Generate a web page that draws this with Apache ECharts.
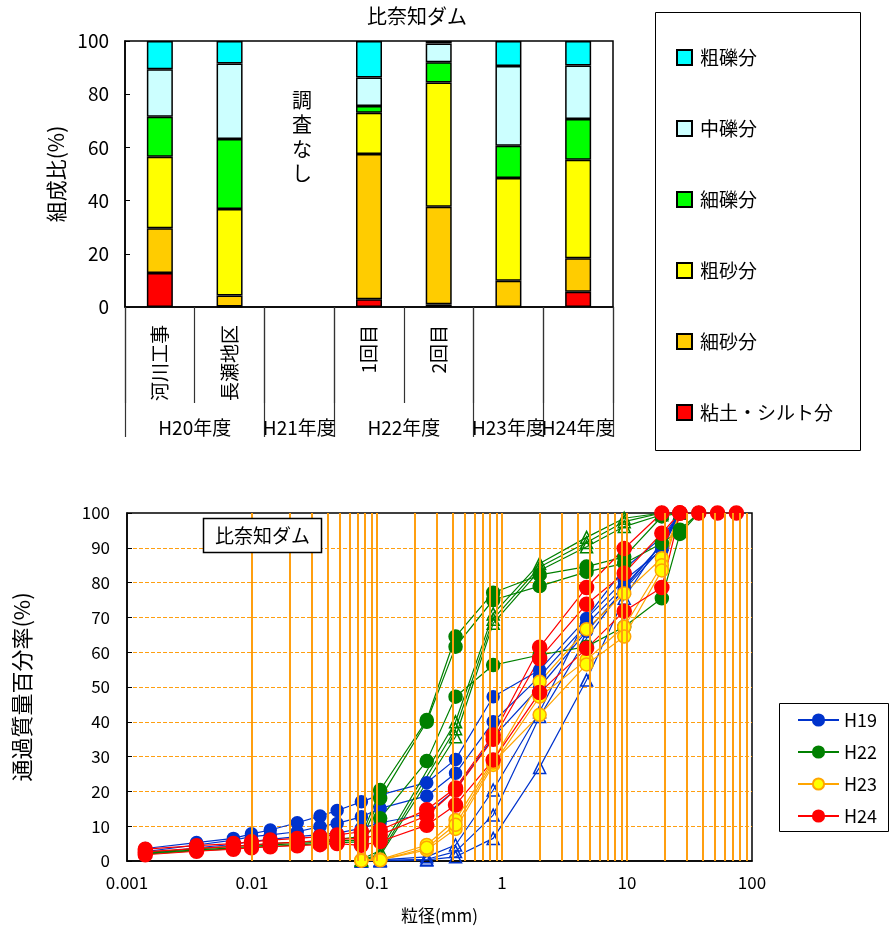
<!DOCTYPE html>
<html><head><meta charset="utf-8">
<script src="https://cdn.jsdelivr.net/npm/echarts/dist/echarts.min.js"></script>
<style>html,body{margin:0;padding:0;background:#fff}#c{width:890px;height:933px}</style>
</head><body><div id="c"></div><script>
// ---------- top chart data ----------
const categories = ['河川工事','長瀬地区','','1回目','2回目','',''];
const yearSlotsA = ['','','H20年度','','','H21年度','','','H22年度','','','','','H24年度',''];
const yearSlotsB = ['','','','','','','','','','','','H23年度','','',''];
const fractionNames = ['粘土・シルト分','細砂分','粗砂分','細礫分','中礫分','粗礫分'];
const fractionColors = ['#FF0000','#FFCC00','#FFFF00','#00FF00','#CCFFFF','#00FFFF'];
const siltClay     = [12.8, 0.2, null, 2.9, 1.0, 0.0, 5.7];
const fineSand     = [16.8, 4.1, null, 54.6, 36.7, 9.9, 12.6];
const coarseSand   = [26.9, 32.5, null, 15.5, 46.7, 38.6, 37.1];
const fineGravel   = [15.0, 26.4, null, 2.6, 7.6, 12.1, 15.3];
const mediumGravel = [17.9, 28.3, null, 10.7, 7.1, 30.0, 20.1];
const coarseGravel = [10.6, 8.5, null, 13.7, 0.9, 9.4, 9.2];
const fractionValues = [siltClay, fineSand, coarseSand, fineGravel, mediumGravel, coarseGravel];

// ---------- bottom chart data ----------
const fineSizes  = [0.0014, 0.0036, 0.0071, 0.0099, 0.014, 0.023, 0.035, 0.048];
const sieveSizes = [0.075, 0.106, 0.25, 0.425, 0.85, 2, 4.75, 9.5, 19, 26.5, 37.5, 53, 75];
const xTickLabels = ['0.001','0.01','0.1','1','10','100'];
const N = null;
// H19
const h19c1 = [3.6,5.3,6.5,7.8,8.9,11.0,12.9,14.5,  17.0,19.0,22.5,29.2,47.2,54.9,69.7,80.7,89.4,100,N,N,N];
const h19c2 = [2.7,4.6,6.0,7.0,7.5,8.4,9.9,10.8,    12.7,15.1,18.7,25.2,40.0,53.0,68.0,79.0,91.0,100,N,N,N];
const h19c3 = [2.0,3.8,4.8,5.6,6.2,7.0,7.6,8.0,     9.4,11.0,13.5,20.5,35.5,50.0,66.0,78.0,90.0,100,N,N,N];
const h19t1 = [N,N,N,N,N,N,N,N,  0,0.3,1.2,4.6,20.4,42.9,70.0,84.0,93.0,100,N,N,N];
const h19t2 = [N,N,N,N,N,N,N,N,  0,0.2,0.5,2.7,13.2,41.5,64.0,78.5,91.0,100,N,N,N];
const h19t3 = [N,N,N,N,N,N,N,N,  0,0,0.3,1.2,6.5,26.9,52.0,75.5,92.0,100,N,N,N];
// H22
const h22c1 = [2.5,3.5,4.2,4.6,5.0,5.4,5.8,6.2,  7.0,20.4,40.5,64.5,77.1,82.2,84.6,87.4,99.0,100,N,N,N];
const h22c2 = [2.2,3.2,3.8,4.2,4.6,5.0,5.4,5.8,  6.0,18.0,40.0,61.6,75.0,79.0,83.1,85.5,91.3,95.2,100,N,N];
const h22c3 = [2.0,3.0,3.5,3.9,4.2,4.6,5.0,5.3,  5.5,12.3,28.7,47.2,56.3,59.2,61.6,67.3,75.5,94.0,100,N,N];
const h22t1 = [N,N,N,N,N,N,N,N,  0.5,3.0,N,40.0,71.0,85.5,93.0,98.5,100,N,N,N,N];
const h22t2 = [N,N,N,N,N,N,N,N,  0.3,2.0,N,38.0,69.5,84.5,91.5,97.5,100,N,N,N,N];
const h22t3 = [N,N,N,N,N,N,N,N,  0.2,1.5,N,35.7,68.3,83.5,90.3,96.1,99.5,100,N,N,N];
// H23
const h23c1 = [N,N,N,N,N,N,N,N,  0.3,0.4,4.6,11.8,29.0,51.5,66.6,76.9,87.0,100,N,N,N];
const h23c2 = [N,N,N,N,N,N,N,N,  0.2,0.3,3.2,9.2,27.6,47.2,57.8,67.3,85.0,100,N,N,N];
const h23c3 = [N,N,N,N,N,N,N,N,  0.1,0.2,3.8,10.4,28.3,42.0,56.5,64.5,83.5,100,N,N,N];
// H24
const h24c1 = [3.4,4.4,5.0,5.5,6.0,6.5,7.0,7.5,  8.4,8.9,14.7,21.0,36.2,61.4,78.6,89.8,100,100,100,100,100];
const h24c2 = [2.6,3.6,4.2,4.6,5.0,5.4,5.8,6.2,  6.5,7.5,13.0,20.4,35.0,58.2,73.8,82.7,94.2,100,N,N,N];
const h24c3 = [1.8,2.8,3.4,3.8,4.1,4.4,4.7,5.0,  4.5,5.6,10.3,16.1,29.0,48.4,61.1,71.8,78.6,100,N,N,N];

const allSizes = fineSizes.concat(sieveSizes);
function toPairs(vals){ const out=[]; vals.forEach((v,i)=>{ if(v!==null) out.push([allSizes[i], v]); }); return out; }

const FONT = 'Noto Sans CJK JP';
const BLUE='#0033CC', GREEN='#008000', ORANGE='#FFA500', YELLOW='#FFFF00', RED='#FF0000';
const GRIDC = '#FF9F10';

function lineSeries(name, vals, symbol, lineColor, fill, border, size){
  return {
    type:'line', name, xAxisIndex:2, yAxisIndex:1, data: toPairs(vals),
    symbol, symbolSize:size, showAllSymbol:true,
    lineStyle:{color:lineColor, width:1.2},
    itemStyle:{color:fill, borderColor:border, borderWidth:1.5},
    emphasis:{disabled:true}, silent:true, z:3
  };
}

const series = [];
fractionNames.forEach((n,i)=>{
  series.push({type:'bar', name:n, xAxisIndex:0, yAxisIndex:0, stack:'s', barWidth:26,
    data: fractionValues[i],
    itemStyle:{color:fractionColors[i], borderColor:'#000', borderWidth:1.5},
    emphasis:{disabled:true}, silent:true});
});

// vertical log grid lines via markLine
const gridVals = [];
for (let e=-3; e<2; e++){ for (let m=1; m<=9; m++){ const v = +(m*Math.pow(10,e)).toPrecision(3); if (v>0.001) gridVals.push(v);} }
series.push({type:'line', name:'grid', xAxisIndex:2, yAxisIndex:1, data:[], z:1, silent:true,
  markLine:{silent:true, symbol:['none','none'], label:{show:false}, animation:false,
    lineStyle:{color:GRIDC, type:'solid', width:2}, emphasis:{disabled:true},
    data: gridVals.map(v=>({xAxis:v}))}});

series.push(lineSeries('H19', h19c1, 'circle', BLUE, BLUE, BLUE, 12));
series.push(lineSeries('H19', h19c2, 'circle', BLUE, BLUE, BLUE, 12));
series.push(lineSeries('H19', h19c3, 'circle', BLUE, BLUE, BLUE, 12));
series.push(lineSeries('H19', h19t1, 'triangle', BLUE, 'rgba(255,255,255,0)', BLUE, 12));
series.push(lineSeries('H19', h19t2, 'triangle', BLUE, 'rgba(255,255,255,0)', BLUE, 12));
series.push(lineSeries('H19', h19t3, 'triangle', BLUE, 'rgba(255,255,255,0)', BLUE, 12));
series.push(lineSeries('H22', h22c1, 'circle', GREEN, GREEN, GREEN, 13));
series.push(lineSeries('H22', h22c2, 'circle', GREEN, GREEN, GREEN, 13));
series.push(lineSeries('H22', h22c3, 'circle', GREEN, GREEN, GREEN, 13));
series.push(lineSeries('H22', h22t1, 'triangle', GREEN, 'rgba(255,255,255,0)', GREEN, 12));
series.push(lineSeries('H22', h22t2, 'triangle', GREEN, 'rgba(255,255,255,0)', GREEN, 12));
series.push(lineSeries('H22', h22t3, 'triangle', GREEN, 'rgba(255,255,255,0)', GREEN, 12));
series.push(lineSeries('H23', h23c1, 'circle', ORANGE, YELLOW, ORANGE, 13));
series.push(lineSeries('H23', h23c2, 'circle', ORANGE, YELLOW, ORANGE, 13));
series.push(lineSeries('H23', h23c3, 'circle', ORANGE, YELLOW, ORANGE, 13));
series.push(lineSeries('H24', h24c1, 'circle', RED, RED, RED, 14));
series.push(lineSeries('H24', h24c2, 'circle', RED, RED, RED, 14));
series.push(lineSeries('H24', h24c3, 'circle', RED, RED, RED, 14));

const longTicks = [0,4,6,10,12,14];
function groupAxis(slots, showTicks){
  return {type:'category', gridIndex:0, data:slots, boundaryGap:false, position:'bottom',
     axisLine:{show:false},
     axisTick:{show:showTicks, interval:(i)=>longTicks.includes(i), length:130, lineStyle:{color:'#333', width:1.2}},
     axisLabel:{interval:(i,v)=>v!=='', margin:111, fontSize:19, color:'#000', fontFamily:FONT, hideOverlap:false,
       showMinLabel:true, showMaxLabel:true},
     splitLine:{show:false}};
}

const option = {
  animation:false,
  textStyle:{fontFamily:FONT, color:'#000'},
  title:{text:'比奈知ダム', left:362, top:1, textStyle:{fontSize:20, fontWeight:'normal', color:'#000', fontFamily:FONT}},
  grid:[
    {left:125, top:41, width:488, height:266, show:true, borderColor:'#000', borderWidth:1.5, outerBoundsMode:'none', containLabel:false},
    {left:127, top:513, width:625, height:348, show:true, borderColor:'#000', borderWidth:1.5, outerBoundsMode:'none', containLabel:false}
  ],
  legend:[
    {data:fractionNames.slice().reverse(), orient:'vertical', left:676, top:48, padding:0, itemWidth:15, itemHeight:15, itemGap:52,
     icon:'rect', selectedMode:false, textStyle:{fontSize:19, color:'#000', fontFamily:FONT, lineHeight:19, padding:[0,0,0,3]}},
    {data:['H19','H22','H23','H24'], orient:'vertical', left:797, top:711, padding:0, itemWidth:41, itemHeight:14, itemGap:14,
     selectedMode:false, textStyle:{fontSize:18, color:'#000', fontFamily:FONT, lineHeight:18}}
  ],
  xAxis:[
    {type:'category', gridIndex:0, data:categories, position:'bottom',
     axisLine:{show:true, lineStyle:{color:'#000', width:1.5}},
     axisTick:{show:true, interval:0, length:96, lineStyle:{color:'#333', width:1.2}},
     axisLabel:{interval:0, rotate:90, margin:18, fontSize:19, color:'#000', fontFamily:FONT, hideOverlap:false},
     splitLine:{show:false}},
    groupAxis(yearSlotsA, true),
    {type:'log', gridIndex:1, logBase:10, min:0.001, max:100,
     axisLine:{show:true, lineStyle:{color:'#000', width:1.5}},
     axisTick:{show:false},
     axisLabel:{fontSize:17, margin:13, color:'#000', fontFamily:FONT,
       formatter:(v)=>{ const e=Math.round(Math.log10(v)); return xTickLabels[e+3] || String(v); }},
     splitLine:{show:false},
     name:'粒径(mm)', nameLocation:'middle', nameGap:46, nameTextStyle:{fontSize:17, color:'#000', fontFamily:FONT}},
    groupAxis(yearSlotsB, false)
  ],
  yAxis:[
    {type:'value', gridIndex:0, min:0, max:100, interval:20,
     axisLine:{show:true, lineStyle:{color:'#000', width:1.5}},
     axisTick:{show:true, inside:true, length:5, lineStyle:{color:'#000'}},
     axisLabel:{fontSize:19, margin:16, color:'#000', fontFamily:FONT},
     splitLine:{show:false},
     name:'組成比(%)', nameLocation:'middle', nameGap:57, nameRotate:90,
     nameTextStyle:{fontSize:21, color:'#000', fontFamily:FONT}},
    {type:'value', gridIndex:1, min:0, max:100, interval:10,
     axisLine:{show:true, lineStyle:{color:'#000', width:1.5}},
     axisTick:{show:true, inside:true, length:5, lineStyle:{color:'#000'}},
     axisLabel:{fontSize:17, margin:17, color:'#000', fontFamily:FONT},
     splitLine:{show:true, showMinLine:false, showMaxLine:false, lineStyle:{color:GRIDC, type:[4,2], width:1}},
     name:'通過質量百分率(%)', nameLocation:'middle', nameGap:94, nameRotate:90,
     nameTextStyle:{fontSize:22, color:'#000', fontFamily:FONT}}
  ],
  graphic:[
    {type:'rect', z:100, shape:{x:655.5, y:12.5, width:205, height:438}, style:{fill:'none', stroke:'#000', lineWidth:1}},
    {type:'rect', z:100, shape:{x:779.5, y:703.5, width:109, height:128}, style:{fill:'none', stroke:'#000', lineWidth:1}},
    {type:'rect', z:100, shape:{x:203.5, y:518.5, width:118, height:34}, style:{fill:'#fff', stroke:'#000', lineWidth:1.5}},
    {type:'text', z:101, style:{text:'比奈知ダム', x:262.5, y:535.5, align:'center', verticalAlign:'middle', fontSize:19, fontFamily:FONT, fill:'#000'}},
    {type:'text', z:101, style:{text:'調\n査\nな\nし', x:302, y:88, align:'center', verticalAlign:'top', fontSize:20, lineHeight:24.5, fontFamily:FONT, fill:'#000'}}
  ],
  series
};
const chart = echarts.init(document.getElementById('c'), null, {renderer:'canvas'});
chart.setOption(option);
</script></body></html>
